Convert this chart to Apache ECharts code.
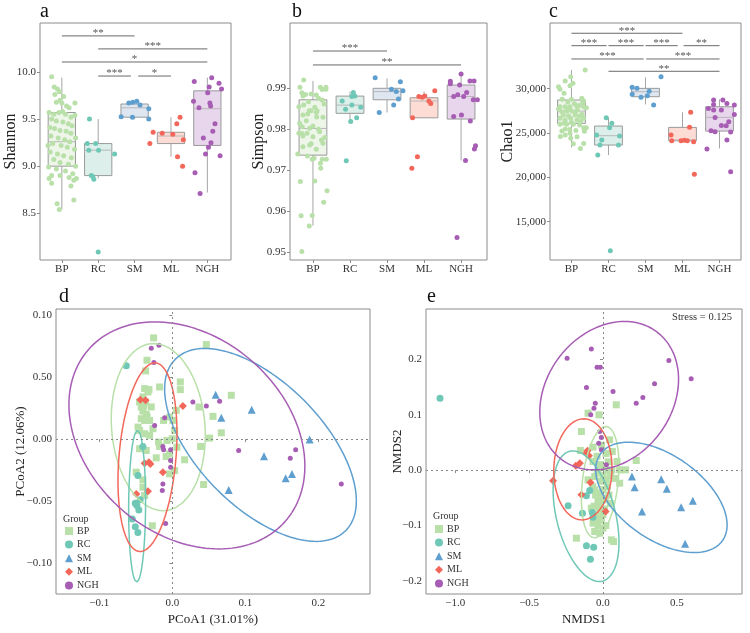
<!DOCTYPE html>
<html><head><meta charset="utf-8">
<script src="https://cdn.jsdelivr.net/npm/echarts@6/dist/echarts.min.js"></script>
<style>html,body{margin:0;padding:0;background:#fff}#c{width:750px;height:633px}</style>
</head><body><div id="c"></div>
<script>
const groups = ['BP','RC','SM','ML','NGH'];
const ptColors = ['#b9e0a9','#6fc8b6','#5e9fcf','#f2675a','#a65db3'];
const boxFills = ['#eef6ea','#dcefea','#dde6f1','#fcdcd4','#e7d6ec'];

// ---- Panel a: Shannon ----
const shannonBox = [[8.54,9.00,9.26,9.57,9.94],[8.87,8.90,9.17,9.24,9.50],[9.50,9.52,9.62,9.66,9.69],[9.10,9.24,9.32,9.36,9.52],[8.72,9.22,9.61,9.80,9.94]];
const shannonBP = [[-0.28,9.95],[-0.21,9.84],[-0.12,9.82],[-0.07,9.79],[-0.19,9.76],[0.05,9.74],[0.36,9.67],[-0.05,9.70],[0.13,9.64],[0.00,9.67],[0.20,9.62],[-0.35,9.57],[-0.22,9.55],[-0.08,9.57],[0.10,9.55],[0.36,9.54],[-0.28,9.50],[-0.15,9.48],[0.03,9.47],[0.18,9.45],[0.28,9.43],[-0.33,9.41],[-0.20,9.40],[-0.05,9.38],[0.12,9.37],[0.25,9.35],[-0.30,9.32],[-0.10,9.30],[0.08,9.28],[0.22,9.26],[-0.25,9.24],[-0.02,9.22],[0.15,9.20],[0.35,9.18],[-0.32,9.15],[-0.12,9.13],[0.05,9.11],[0.26,9.09],[-0.22,9.07],[-0.05,9.04],[0.18,9.02],[0.38,9.00],[-0.36,8.99],[-0.15,8.97],[0.10,8.95],[0.30,8.92],[-0.28,8.90],[-0.05,8.90],[0.20,8.88],[0.40,8.87],[-0.35,8.87],[-0.28,8.82],[0.25,8.79],[0.33,8.85],[-0.13,8.60],[-0.07,8.54],[0.33,8.64],[-0.15,9.68],[0.25,9.52],[0.38,9.30],[-0.38,9.22],[0.02,9.58]];
const shannonRC = [[-0.24,9.50],[-0.30,9.24],[-0.07,9.24],[-0.26,9.17],[0.01,9.17],[0.45,9.13],[-0.19,8.90],[-0.15,8.89],[-0.12,8.86],[0.00,8.09]];
const shannonSM = [[-0.37,9.525],[-0.16,9.67],[-0.05,9.68],[0.06,9.69],[0.15,9.65],[-0.06,9.52],[0.39,9.61],[0.39,9.50]];
const shannonML = [[-0.58,9.24],[-0.49,9.36],[-0.24,9.35],[0.05,9.34],[0.16,9.45],[0.25,9.52],[0.34,9.28],[0.18,9.10],[0.32,9.00]];
const shannonNGH = [[-0.36,9.90],[0.12,9.94],[0.32,9.88],[0.39,9.82],[0.05,9.84],[0.01,9.78],[-0.38,9.69],[0.07,9.67],[0.09,9.64],[-0.23,9.62],[0.21,9.45],[0.15,9.37],[-0.11,9.30],[0.10,9.25],[0.03,9.20],[-0.05,9.13],[0.35,9.11],[-0.34,8.93],[-0.20,8.71]];
const shannonSig = [[1,3,10.383],[2,5,10.245],[1,5,10.106],[2,2.9,9.957],[3.1,4,9.957]];
const shannonSigLabels = ['**','***','*','***','*'];
const shannonTicks = [8.5,9.0,9.5,10.0];

// ---- Panel b: Simpson ----
const simpsonBox = [[0.9565,0.9737,0.9802,0.9872,0.9918],[0.9819,0.9839,0.9859,0.9881,0.9892],[0.9841,0.9872,0.9892,0.9900,0.9924],[0.9828,0.9828,0.9869,0.9877,0.9892],[0.9724,0.9825,0.9880,0.9908,0.9933]];
const simpsonBP = [[-0.25,0.99203],[-0.35,0.99024],[-0.30,0.98894],[-0.27,0.98813],[-0.05,0.98862],[0.20,0.99024],[0.35,0.99024],[0.35,0.98976],[0.09,0.98837],[0.15,0.98756],[0.25,0.98715],[-0.12,0.98675],[-0.25,0.98593],[-0.38,0.98553],[0.05,0.98537],[-0.05,0.98455],[0.09,0.98407],[-0.27,0.9835],[-0.14,0.98374],[0.11,0.98455],[-0.18,0.98211],[0.27,0.98293],[-0.36,0.98146],[-0.29,0.98065],[-0.09,0.98024],[0.18,0.97943],[-0.16,0.97902],[-0.27,0.97837],[-0.38,0.97902],[0.00,0.97821],[0.23,0.9774],[-0.09,0.97618],[-0.27,0.97577],[0.09,0.97512],[0.27,0.97659],[-0.41,0.97398],[-0.15,0.9735],[0.03,0.97293],[0.25,0.97268],[0.36,0.97268],[0.20,0.97171],[0.21,0.97049],[-0.02,0.97268],[-0.34,0.96724],[0.05,0.9674],[0.38,0.9650],[0.29,0.9622],[-0.32,0.9589],[-0.02,0.9590],[-0.10,0.9564],[-0.30,0.9502],[-0.20,0.9885],[0.30,0.9862],[0.00,0.9808],[-0.10,0.9845],[0.15,0.9800],[-0.30,0.9790],[0.32,0.9780],[-0.05,0.9765],[0.10,0.9830],[0.25,0.9897]];
const simpsonRC = [[-0.21,0.9869],[0.05,0.9880],[0.09,0.9890],[0.13,0.9881],[-0.12,0.9849],[0.05,0.9859],[0.29,0.9854],[0.18,0.9828],[0.02,0.9819],[-0.10,0.9723]];
const simpsonSM = [[-0.32,0.9926],[0.36,0.9916],[0.12,0.9898],[0.25,0.9892],[0.43,0.9894],[0.31,0.9874],[0.18,0.9859],[-0.21,0.9841]];
const simpsonML = [[0.29,0.9894],[-0.14,0.9880],[-0.05,0.9878],[0.02,0.9881],[0.13,0.9869],[0.18,0.9863],[-0.31,0.9828],[-0.18,0.9733],[-0.33,0.9705]];
const simpsonNGH = [[0.00,0.9935],[-0.29,0.9917],[-0.29,0.9911],[-0.04,0.9908],[0.24,0.9918],[0.35,0.9918],[0.15,0.9890],[-0.09,0.9884],[-0.20,0.9880],[0.44,0.9872],[0.33,0.9872],[0.01,0.9835],[-0.20,0.9831],[0.25,0.9820],[0.39,0.9760],[0.36,0.9752],[0.12,0.9724],[-0.11,0.9536],[0.07,0.9880]];
const simpsonSig = [[1,3,0.9991],[1,5,0.9957]];
const simpsonSigLabels = ['***','**'];
const simpsonTicks = [0.95,0.96,0.97,0.98,0.99];

// ---- Panel c: Chao1 ----
const chaoBox = [[23366,26087,27480,28725,32111],[22517,23646,24699,25790,26731],[28232,29097,29661,30038,31279],[24130,24130,24210,25640,27336],[23266,25222,26765,27968,28796]];
const chaoBP = [[0.37,32111],[-0.02,31358],[-0.17,30869],[0.04,30606],[-0.35,30229],[-0.31,29929],[-0.04,30342],[-0.20,29477],[0.28,28913],[0.33,28612],[-0.31,27972],[-0.17,27972],[-0.04,27972],[0.15,27972],[0.33,27972],[-0.26,27408],[-0.13,27483],[0.01,27483],[0.16,27596],[0.40,27859],[-0.22,27032],[-0.08,26957],[0.10,27032],[0.28,27107],[-0.31,26656],[-0.17,26468],[-0.02,26656],[0.15,26468],[0.33,26656],[-0.31,25978],[-0.13,25978],[0.05,25978],[0.22,25903],[0.33,25602],[0.40,25602],[-0.17,25452],[-0.26,25226],[-0.04,24963],[0.15,24587],[0.33,23834],[-0.17,24775],[0.24,23270],[-0.02,24399],[-0.10,28500],[0.08,28300],[0.20,28100],[-0.25,28800],[0.00,26200],[0.25,26300],[-0.05,25400],[0.12,25300],[-0.30,24600],[0.05,23800],[0.30,28400],[-0.35,27700],[0.22,26900],[-0.08,27700],[0.10,27300],[-0.20,26100],[0.35,25200],[0.00,28800]];
const chaoRC = [[-0.06,26731],[0.09,26091],[0.03,25602],[-0.32,24775],[0.30,24662],[-0.18,24210],[-0.23,23646],[0.27,23646],[-0.29,22517],[0.05,11717]];
const chaoSM = [[-0.36,30154],[-0.23,30041],[-0.36,29364],[-0.12,29023],[0.05,29210],[0.22,28160],[0.42,31354],[0.10,29700]];
const chaoML = [[-0.31,24774],[-0.29,24131],[-0.04,24131],[0.13,24131],[0.30,24019],[0.19,25654],[0.22,27340],[0.32,20338],[0.05,24200]];
const chaoNGH = [[-0.16,28721],[-0.16,28232],[0.09,28721],[0.20,28345],[0.40,28157],[-0.30,27780],[-0.16,27592],[0.05,27592],[0.40,27103],[-0.12,26765],[0.25,26276],[0.05,25862],[0.18,25824],[-0.23,25260],[-0.12,25147],[0.30,25109],[0.20,24207],[-0.34,23191],[0.30,20633]];
const chaoSig = [[1,4,36253],[1,1.95,34853],[2,2.95,34853],[3,3.87,34853],[4.03,5,34853],[1,2.95,33352],[3.02,5,33352],[2,5,31964]];
const chaoSigLabels = ['***','***','***','***','**','***','***','**'];
const chaoTicks = [15000,20000,25000,30000];

// ---- Panel d: PCoA ----
const pcoaBP = [[-0.0256,0.0818],[0.0466,0.0764],[-0.0347,0.0637],[0.0808,0.0354],[0.0365,0.0259],[0.0557,0.0184],[0.0671,0.0051],[0.0511,0.0008],[0.0388,-0.0059],[0.0169,-0.0167],[0.0429,-0.0367],[-0.0274,-0.0700],[0.0110,0.0462],[0.0110,0.0400],[-0.0174,0.0421],[-0.0366,0.0551],[-0.0379,0.0408],[-0.0320,0.0400],[-0.0402,0.0341],[-0.0366,0.0300],[-0.0425,0.0260],[-0.0402,0.0227],[-0.0357,0.0200],[-0.0425,0.0165],[-0.0379,0.0151],[-0.0311,0.0151],[-0.0119,0.0151],[-0.0037,0.0178],[0.0009,0.0151],[0.0054,0.0232],[0.0032,0.0070],[-0.0265,0.0084],[-0.0448,0.0070],[-0.0379,0.0043],[-0.0311,0.0030],[-0.0188,-0.0024],[-0.0074,-0.0011],[0.0000,0.0003],[-0.0448,-0.0078],[-0.0357,-0.0092],[-0.0174,-0.0059],[-0.0220,-0.0151],[-0.0083,-0.0140],[-0.0037,-0.0119],[0.0063,-0.0065],[-0.0402,-0.0329],[-0.0379,-0.0456],[-0.0494,-0.0267],[-0.0037,-0.0281],[0.0032,-0.0254],[-0.0402,-0.0389],[-0.0334,0.0381],[-0.0448,0.0300],[-0.0288,0.0260],[-0.0470,0.0097],[-0.0390,0.0270],[-0.0345,0.0180]];
const pcoaRC = [[-0.0630,0.0592],[-0.0403,-0.0059],[-0.0471,-0.0294],[-0.0507,-0.0519],[-0.0485,-0.0537],[-0.0458,-0.0572],[-0.0440,-0.0490],[-0.0548,-0.0645],[-0.0507,-0.0707],[-0.0471,-0.0754]];
const pcoaSM = [[0.0594,0.0359],[0.0671,0.0173],[0.1087,0.0238],[0.1256,-0.0138],[0.0772,-0.0411],[0.1553,-0.0316],[0.1639,-0.0281],[0.1881,-0.0003]];
const pcoaML = [[-0.0438,0.0319],[-0.0366,0.0314],[0.0145,0.0267],[-0.0379,-0.0194],[-0.0321,-0.0186],[-0.0129,-0.0267],[-0.0493,-0.0443],[-0.0334,-0.0421],[-0.0300,-0.0200]];
const pcoaNGH = [[-0.0288,0.0733],[-0.0183,0.0759],[-0.0252,0.0619],[0.0282,0.0300],[0.0466,0.0267],[0.0648,0.0305],[-0.0105,0.0173],[-0.0242,0.0111],[-0.0129,-0.0059],[-0.0119,-0.0086],[-0.0023,-0.0086],[-0.0023,-0.0173],[-0.0023,-0.0227],[-0.0129,-0.0362],[-0.0137,-0.0416],[-0.0092,-0.0681],[0.0909,-0.0092],[0.1616,-0.0154],[0.1690,-0.0086],[0.2315,-0.0362]];
// ellipse: [centreX, centreY, halfWidthX, halfHeightY, rho]
const pcoaEllipses = [[-0.0192,0.0097,0.0644,0.0675,-0.10],[-0.0482,-0.0542,0.0116,0.0612,0.05],[0.1208,-0.0047,0.1313,0.0779,-0.58],[-0.0340,-0.0146,0.0404,0.0762,0.25],[0.0200,0.0030,0.1616,0.0917,-0.27]];
const pcoaXTicks = [-0.1,0,0.1,0.2];
const pcoaYTicks = [-0.10,-0.05,0,0.05,0.10];
const pcoaYTickLabels = ['\u22120.10','\u22120.05','0.00','0.50','0.10'];

// ---- Panel e: NMDS ----
const nmdsBP = [[0.090,0.1179],[-0.101,0.1028],[-0.027,0.0998],[-0.146,0.0697],[0.045,0.0547],[-0.067,0.0415],[0.063,0.0336],[-0.153,0.0355],[-0.067,0.0156],[0.095,0.0156],[0.225,0.0174],[0.011,0.0066],[0.113,0.0005],[0.153,0.0005],[-0.034,0.0005],[-0.101,-0.0175],[-0.056,-0.0115],[0.023,-0.0175],[0.113,-0.0235],[-0.056,-0.0355],[-0.022,-0.0416],[-0.034,-0.0536],[0.000,-0.0536],[-0.079,-0.0686],[-0.027,-0.0686],[-0.045,-0.0806],[-0.011,-0.0885],[-0.067,-0.0957],[-0.034,-0.1005],[0.000,-0.1047],[-0.056,-0.1107],[-0.022,-0.1137],[0.057,-0.1258],[-0.180,-0.1228],[0.072,-0.1288],[-0.010,-0.0200],[0.030,-0.0300],[-0.040,-0.0050],[0.050,-0.0100],[-0.020,-0.0600],[0.010,-0.0700],[-0.050,-0.0450],[0.040,-0.0450],[0.000,-0.0800],[-0.030,-0.0900],[0.020,-0.1000],[0.060,0.0000],[0.080,-0.0150],[-0.070,-0.0300],[0.020,0.0300],[-0.010,0.0450],[0.035,0.0150],[-0.040,0.0250],[0.000,-0.0100],[0.015,-0.0500],[-0.060,-0.0650],[0.050,-0.0600],[0.000,-0.0350],[-0.020,0.0100],[0.030,0.0000]];
const nmdsRC = [[-1.103,0.1299],[-0.090,-0.0368],[-0.112,-0.0464],[-0.236,-0.0644],[-0.139,-0.0776],[-0.072,-0.0765],[-0.068,-0.0848],[-0.112,-0.1366],[-0.063,-0.1390],[-0.085,-0.1607]];
const nmdsSM = [[0.196,-0.0115],[0.214,-0.0307],[0.264,-0.0747],[0.394,-0.0163],[0.432,-0.0337],[0.529,-0.0668],[0.608,-0.0554],[0.556,-0.1330]];
const nmdsML = [[-0.184,0.0078],[-0.157,0.0126],[-0.112,0.0307],[-0.095,0.0258],[-0.105,0.0350],[-0.338,-0.0193],[-0.085,-0.0224],[-0.146,-0.0446],[0.018,-0.0747]];
const nmdsNGH = [[-0.243,0.2021],[-0.079,0.2184],[-0.040,0.1859],[-0.018,0.1859],[-0.112,0.1492],[0.068,0.1419],[-0.052,0.1209],[-0.061,0.1119],[-0.083,0.0999],[-0.022,0.0697],[-0.011,0.0589],[-0.029,0.0487],[-0.011,0.0367],[0.023,0.0096],[0.225,0.1209],[0.270,0.1311],[0.349,0.1558],[0.446,0.1979],[0.597,0.1648]];
const nmdsEllipses = [[-0.0189,-0.0217,0.127,0.1005,0.30],[-0.1146,-0.0831,0.223,0.1179,-0.40],[0.3955,-0.0491,0.4448,0.0996,-0.50],[-0.136,0.0014,0.197,0.0912,0.03],[0.0419,0.1344,0.4696,0.1339,0.22]];
const nmdsXTicks = [-1.0,-0.5,0,0.5];
const nmdsYTicks = [-0.2,-0.1,0,0.1,0.2];
const stressText = 'Stress = 0.125';

// ---------- helpers ----------
const FONT = "'Liberation Serif','DejaVu Serif',serif";
const FRAME = '#8c8c8c';
const fmt = (d) => (v) => { const r = Math.abs(v) < 1e-9 ? 0 : v; return (r < 0 ? '\u2212' : '') + Math.abs(r).toFixed(d); };
const lookup = (ticks, labels) => (v) => { for (let i = 0; i < ticks.length; i++) if (Math.abs(ticks[i]-v) < 1e-6) return labels[i]; return ''; };

function ellipsePts(e){
  const [cx,cy,rx,ry,rho] = e; const s = Math.sqrt(1 - rho*rho); const pts = [];
  for (let i = 0; i <= 160; i++){ const t = 2*Math.PI*i/160; pts.push([cx + rx*Math.cos(t), cy + ry*(rho*Math.cos(t) + s*Math.sin(t))]); }
  return pts;
}
function boxRender(params, api){
  const x = api.value(0), lo = api.value(1), q1 = api.value(2), md = api.value(3), q3 = api.value(4), hi = api.value(5);
  const hw = 0.375;
  const a = api.coord([x-hw, q3]), b = api.coord([x+hw, q1]);
  const t = api.coord([x, hi]), tq = api.coord([x, q3]), bq = api.coord([x, q1]), bt = api.coord([x, lo]);
  const m1 = api.coord([x-hw, md]), m2 = api.coord([x+hw, md]);
  const ls = {stroke:'#a5a5a5', lineWidth:1};
  return {type:'group', children:[
    {type:'line', shape:{x1:t[0],y1:t[1],x2:tq[0],y2:tq[1]}, style:ls},
    {type:'line', shape:{x1:bq[0],y1:bq[1],x2:bt[0],y2:bt[1]}, style:ls},
    {type:'rect', shape:{x:a[0], y:a[1], width:b[0]-a[0], height:b[1]-a[1]}, style:{fill:boxFills[params.dataIndex], stroke:'#9a9a9a', lineWidth:1}},
    {type:'line', shape:{x1:m1[0],y1:m1[1],x2:m2[0],y2:m2[1]}, style:{stroke:'#b8b8b8', lineWidth:1}}
  ]};
}
function sigRender(labels){
  return function(params, api){
    const y = api.value(2);
    const p1 = api.coord([api.value(0), y]), p2 = api.coord([api.value(1), y]);
    return {type:'group', children:[
      {type:'line', shape:{x1:p1[0],y1:p1[1],x2:p2[0],y2:p2[1]}, style:{stroke:'#6a6a6a', lineWidth:1}},
      {type:'text', style:{text:labels[params.dataIndex], x:(p1[0]+p2[0])/2, y:p1[1]-2.5, align:'center', verticalAlign:'middle', fontSize:11, fontFamily:FONT, fill:'#555'}}
    ]};
  };
}

const grids = [
  {left:40, top:23, width:191, height:237},
  {left:290, top:23, width:197, height:237},
  {left:550, top:23, width:191, height:237},
  {left:56, top:309, width:314, height:285},
  {left:426, top:309, width:316, height:285}
].map(g => Object.assign(g, {show:true, borderColor:FRAME, borderWidth:1, backgroundColor:'#fff', containLabel:false}));

const tickStyle = {show:true, length:3, lineStyle:{color:FRAME, width:1}};
const labelStyle = {color:'#333', fontSize:11, fontFamily:FONT};
function valAxis(gi, min, max, ticks, formatter, name, nameGap, isY){
  return {
    type:'value', gridIndex:gi, min:min, max:max, scale:true,
    axisLine:{show:false}, splitLine:{show:false},
    axisTick:Object.assign({customValues:ticks}, tickStyle),
    axisLabel:Object.assign({customValues:ticks, formatter:formatter, margin:4, hideOverlap:false}, labelStyle),
    name:name, nameLocation:'middle', nameGap:nameGap, nameMoveOverlap:false,
    nameTextStyle:{fontSize: isY && gi < 3 ? 16 : 13, fontFamily:FONT, color:'#222'}
  };
}
const catTicks = [1,2,3,4,5];
const catFmt = (v) => groups[Math.round(v)-1] || '';

const xAxes = [
  valAxis(0, 0.4, 5.65, catTicks, catFmt, '', 0, false),
  valAxis(1, 0.38, 5.70, catTicks, catFmt, '', 0, false),
  valAxis(2, 0.42, 5.58, catTicks, catFmt, '', 0, false),
  valAxis(3, -0.1593, 0.2708, pcoaXTicks, fmt(1), 'PCoA1 (31.01%)', 19, false),
  valAxis(4, -1.198, 0.941, nmdsXTicks, fmt(1), 'NMDS1', 19, false)
];
const yAxes = [
  valAxis(0, 8.004, 10.52, shannonTicks, (v)=>v.toFixed(1), 'Shannon', 21, true),
  valAxis(1, 0.94812, 1.00593, simpsonTicks, (v)=>v.toFixed(2), 'Simpson', 23, true),
  valAxis(2, 10681, 37410, chaoTicks, (v)=>v.toLocaleString('en-US'), 'Chao1', 34, true),
  valAxis(3, -0.1251, 0.1051, pcoaYTicks, lookup(pcoaYTicks, pcoaYTickLabels), 'PCoA2 (12.06%)', 29, true),
  valAxis(4, -0.2235, 0.2908, nmdsYTicks, fmt(1), 'NMDS2', 22, true)
];
yAxes.forEach(a => { a.nameRotate = 90; });

const series = [];
function addBoxPanel(gi, box, pts, sig, sigLabels){
  series.push({type:'custom', xAxisIndex:gi, yAxisIndex:gi, renderItem:boxRender,
    encode:{x:0, y:[1,2,3,4,5]}, data: box.map((b,i)=>[i+1].concat(b)), z:2, silent:true});
  pts.forEach((arr, gIdx) => {
    series.push({type:'scatter', xAxisIndex:gi, yAxisIndex:gi, symbol:'circle', symbolSize:5,
      itemStyle:{color:ptColors[gIdx], opacity:1}, z:3, silent:true,
      data: arr.map(p => [gIdx+1+p[0], p[1]])});
  });
  series.push({type:'custom', xAxisIndex:gi, yAxisIndex:gi, renderItem:sigRender(sigLabels),
    encode:{x:[0,1], y:2}, data:sig, z:4, silent:true, clip:false});
}
addBoxPanel(0, shannonBox, [shannonBP, shannonRC, shannonSM, shannonML, shannonNGH], shannonSig, shannonSigLabels);
addBoxPanel(1, simpsonBox, [simpsonBP, simpsonRC, simpsonSM, simpsonML, simpsonNGH], simpsonSig, simpsonSigLabels);
addBoxPanel(2, chaoBox, [chaoBP, chaoRC, chaoSM, chaoML, chaoNGH], chaoSig, chaoSigLabels);

const ordSymbols = ['rect','circle','triangle','diamond','circle'];
const ordSizes = [7,7,8,8,5];
function addOrdPanel(gi, pts, ellipses){
  pts.forEach((arr, gIdx) => {
    const s = {type:'scatter', name:groups[gIdx], xAxisIndex:gi, yAxisIndex:gi, symbol:ordSymbols[gIdx], symbolSize:ordSizes[gIdx],
      itemStyle:{color:ptColors[gIdx], opacity:1}, z:3, silent:true, data:arr};
    if (gIdx === 0){
      s.markLine = {silent:true, symbol:['none','none'], label:{show:false}, animation:false,
        lineStyle:{type:[2,3], color:'#888', width:1}, data:[{xAxis:0},{yAxis:0}]};
    }
    series.push(s);
  });
  ellipses.forEach((e, gIdx) => {
    series.push({type:'line', name:groups[gIdx], xAxisIndex:gi, yAxisIndex:gi, data:ellipsePts(e), showSymbol:false, symbol:'none',
      lineStyle:{color:ptColors[gIdx], width:1.5}, z:4, silent:true, clip:true});
  });
}
addOrdPanel(3, [pcoaBP, pcoaRC, pcoaSM, pcoaML, pcoaNGH], pcoaEllipses);
addOrdPanel(4, [nmdsBP, nmdsRC, nmdsSM, nmdsML, nmdsNGH], nmdsEllipses);

const legendBase = {orient:'vertical', itemWidth:8, itemHeight:8, itemGap:3.6, padding:0, selectedMode:false,
  textStyle:{fontSize:10, fontFamily:FONT, color:'#333', padding:[0,0,0,-1]},
  data: groups.map((g,i)=>({name:g, icon:ordSymbols[i], itemStyle:{color:ptColors[i]}}))};

const letter = (t, l, tp) => ({text:t, left:l, top:tp, padding:0, textStyle:{fontSize:20, fontWeight:'normal', fontFamily:FONT, color:'#111'}});
const small = (t, l, tp) => ({text:t, left:l, top:tp, padding:0, textStyle:{fontSize:10, fontWeight:'normal', fontFamily:FONT, color:'#333'}});

const option = {
  animation:false,
  backgroundColor:'#fff',
  title:[letter('a',40,2), letter('b',292,2), letter('c',549,2), letter('d',59,287), letter('e',427,287),
    small('Group',63,514), small('Group',433,511),
    {text:stressText, right:18, top:312, padding:0, textStyle:{fontSize:10.5, fontWeight:'normal', fontFamily:FONT, color:'#333'}}],
  grid:grids,
  xAxis:xAxes,
  yAxis:yAxes,
  legend:[Object.assign({left:65, top:526}, legendBase), Object.assign({left:435, top:524}, legendBase)],
  series:series
};
const chart = echarts.init(document.getElementById('c'), null, {renderer:'canvas'});
chart.setOption(option);
</script></body></html>
